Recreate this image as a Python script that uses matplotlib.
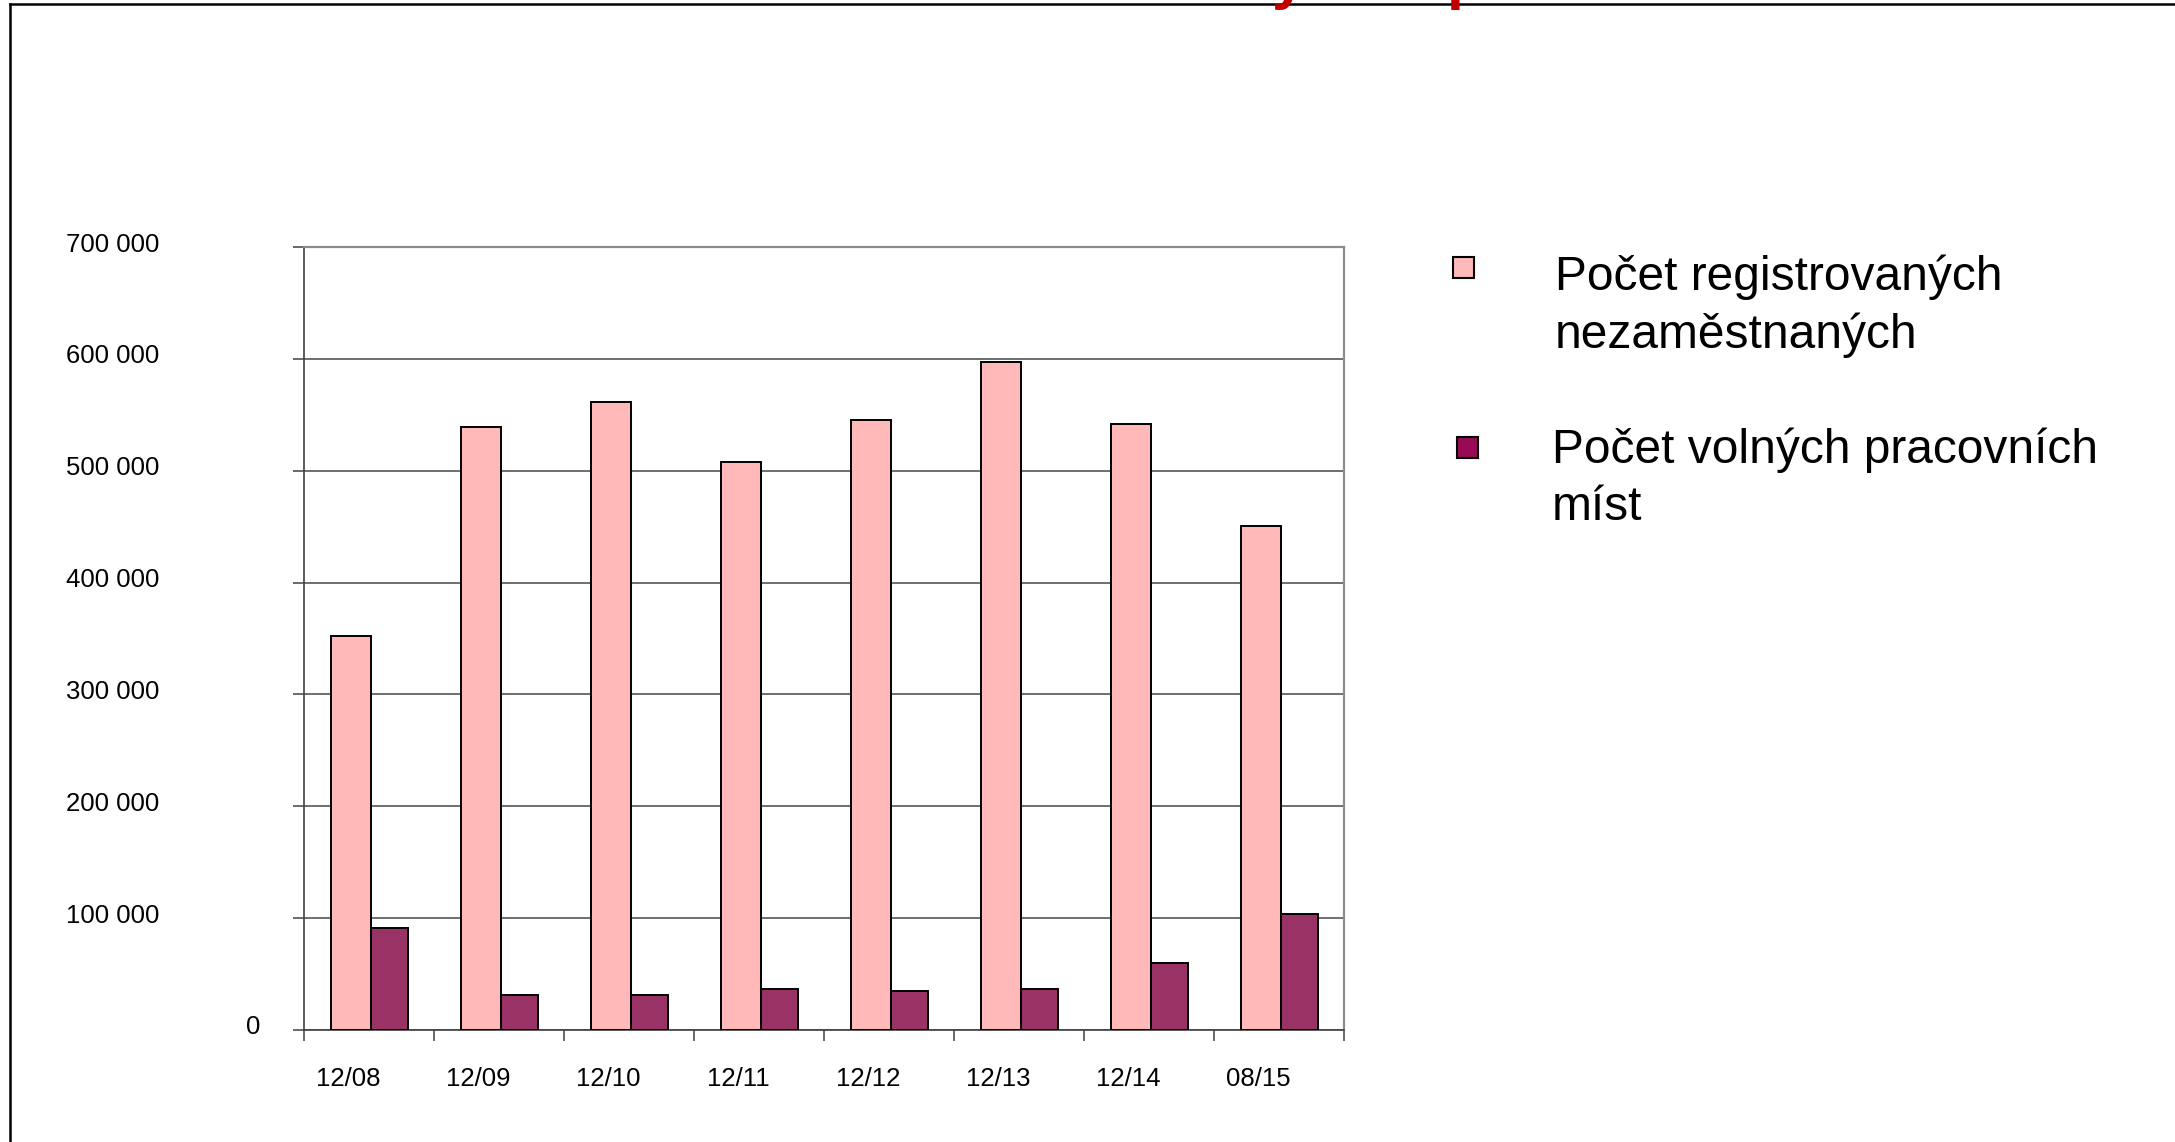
import matplotlib
matplotlib.use("Agg")
import matplotlib.pyplot as plt
import numpy as np
from matplotlib.transforms import ScaledTranslation
from matplotlib.patches import Rectangle
from matplotlib.lines import Line2D

plt.rcParams['font.family'] = ['Liberation Sans', 'DejaVu Sans']

# ---- data ----
categories = ["12/08", "12/09", "12/10", "12/11", "12/12", "12/13", "12/14", "08/15"]
unemployed = [352000, 539000, 561000, 508000, 545000, 597000, 542000, 451000]
vacancies = [91000, 31000, 31000, 37000, 35000, 37000, 60000, 104000]
series_names = ["Počet registrovaných\nnezaměstnaných", "Počet volných pracovních\nmíst"]
yticks = [0, 100000, 200000, 300000, 400000, 500000, 600000, 700000]
ytick_labels = ["0", "100 000", "200 000", "300 000", "400 000", "500 000", "600 000", "700 000"]

pink = "#FFB9B9"
plum = "#993366"
plum_legend = "#990A55"

W, H, DPI = 2175, 1142, 100
fig = plt.figure(figsize=(W / DPI, H / DPI), dpi=DPI)
fig.patch.set_facecolor("white")

# axes placement (pixels)
left_px, right_px, top_px, zero_px = 304, 1344, 247, 1030
ax = fig.add_axes([left_px / W, (H - zero_px) / H, (right_px - left_px) / W, (zero_px - top_px) / H])

x = np.arange(len(categories))
ax.bar(x - 0.29, unemployed, width=0.305, align='edge', color=pink,
       edgecolor='black', linewidth=1.4, zorder=3)
ax.bar(x + 0.015, vacancies, width=0.285, align='edge', color=plum,
       edgecolor='black', linewidth=1.4, zorder=3)

ax.set_xlim(-0.5, len(categories) - 0.5)
ax.set_ylim(0, 700000)

# grid
ax.set_yticks(yticks)
ax.yaxis.grid(True, color='#555555', linewidth=1.2, zorder=0)
ax.set_axisbelow(True)

# x ticks: marks at boundaries, labels at centres
ax.set_xticks(np.arange(len(categories) + 1) - 0.5)
ax.set_xticklabels([])
ax.set_xticks(x, minor=True)
ax.set_xticklabels(categories, minor=True)
ax.tick_params(axis='x', which='major', direction='out', length=8, width=1.1, color='#404040')
ax.tick_params(axis='x', which='minor', length=0, pad=27, labelsize=18.5)
ax.tick_params(axis='y', direction='out', length=8, width=1.1, color='#404040',
               pad=96, labelsize=18.5)
ax.set_yticklabels(ytick_labels)

# label offsets (as in the original rendering)
for lab in ax.get_xticklabels(minor=True):
    lab.set_transform(lab.get_transform() + ScaledTranslation(-21 / DPI, 0, fig.dpi_scale_trans))
for i, lab in enumerate(ax.get_yticklabels()):
    dx = 101 / DPI if i == 0 else 0
    lab.set_transform(lab.get_transform() + ScaledTranslation(dx, 5 / DPI, fig.dpi_scale_trans))

for s in ['left', 'bottom']:
    ax.spines[s].set_color('#404040')
    ax.spines[s].set_linewidth(1.2)
for s in ['top', 'right']:
    ax.spines[s].set_color('#8c8c8c')
    ax.spines[s].set_linewidth(1.6)

# ---- legend (manual, markers aligned with first line) ----
def fx(px):
    return px / W

def fy(py):
    return 1 - py / H

legend_items = [
    (series_names[0], pink, 1453, 257, 1555, 290),
    (series_names[1], plum_legend, 1457, 437, 1552, 463),
]
for name, col, mx, my, tx, ty in legend_items:
    fig.add_artist(Rectangle((fx(mx), fy(my + 21)), 21 / W, 21 / H, transform=fig.transFigure,
                             facecolor=col, edgecolor='black', linewidth=1.5))
    for k, line in enumerate(name.split("\n")):
        fig.text(fx(tx), fy(ty + k * 57.5), line, fontsize=34.5, ha='left', va='baseline',
                 color='black')

# ---- slide frame and clipped red title ----
fig.add_artist(Line2D([fx(10), 1.0], [fy(4), fy(4)], transform=fig.transFigure,
                      color='black', linewidth=1.8))
fig.add_artist(Line2D([fx(10), fx(10)], [fy(4), 0.0], transform=fig.transFigure,
                      color='black', linewidth=1.8))
fig.text(fx(1272), fy(-3), "y", fontsize=44, fontweight='bold', color='#C00000',
         ha='left', va='baseline')
fig.text(fx(1447), fy(-3), "p", fontsize=44, fontweight='bold', color='#C00000',
         ha='left', va='baseline')

fig.savefig("out.png", dpi=DPI, facecolor='white')
